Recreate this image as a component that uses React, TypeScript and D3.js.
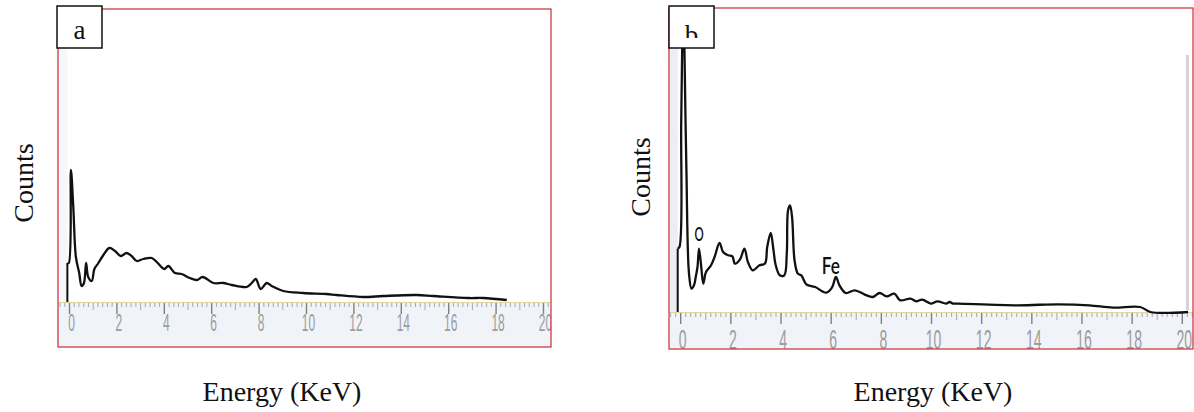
import React from 'react';
import * as d3 from 'd3';

// ---- data (energy in keV, counts in arbitrary units) ----
const energyA = [-0.09,-0.09,-0.03,0.06,0.16,0.27,0.41,0.51,0.61,0.70,0.79,0.94,1.05,1.22,1.43,1.68,1.92,2.16,2.41,2.62,2.84,3.11,3.47,3.68,4.00,4.17,4.45,4.73,5.08,5.37,5.62,6.07,6.49,6.84,7.48,7.69,7.86,8.07,8.32,8.53,9.02,9.86,10.85,11.27,12.40,13.24,14.65,15.35,16.83,17.46,18.45];
const countsA = [0,390,390,1320,950,450,290,160,190,390,250,210,330,390,470,540,510,460,490,460,410,430,440,400,330,360,290,280,240,220,250,190,190,170,150,190,230,130,190,160,110,90,80,70,50,60,70,60,40,40,20];

const energyB = [-0.12,-0.12,-0.05,0.02,0.06,0.11,0.15,0.23,0.33,0.43,0.53,0.60,0.67,0.73,0.82,0.90,1.01,1.21,1.35,1.55,1.69,1.89,2.06,2.16,2.36,2.54,2.68,2.87,3.14,3.36,3.45,3.59,3.70,3.79,3.95,4.13,4.23,4.28,4.36,4.44,4.54,4.67,4.81,5.01,5.36,5.80,6.03,6.19,6.33,6.58,6.94,7.32,7.66,7.93,8.21,8.52,8.75,9.16,9.39,9.63,9.97,10.24,10.58,10.72,10.86,11.06,13.43,15.06,16.29,17.24,18.32,18.73,20.23];
const countsB = [0,634,650,1887,2637,3300,2617,1387,387,234,267,350,450,634,450,284,400,467,550,690,600,567,557,484,524,634,500,417,467,484,650,790,617,467,367,367,584,1017,1067,950,517,384,367,277,250,194,244,350,267,190,217,177,150,190,157,184,117,134,107,124,84,107,84,100,84,84,67,77,67,44,50,0,0];

const rulerLabels = [0, 2, 4, 6, 8, 10, 12, 14, 16, 18, 20];
const peakNames = ['O', 'Fe'];
const peakEnergies = [0.73, 5.99];
const peakCounts = [710, 380];

const xTitle = 'Energy (KeV)';
const yTitle = 'Counts';

type PanelProps = {
  id: string;
  letter: string;
  frame: [number, number, number, number];
  x0: number;
  x20: number;
  baseline: number;
  yMax: number;
  energy: number[];
  counts: number[];
  digitSize: number;
  digitBaseline: number;
  stripFill: string;
  countsX: number;
  countsY: number;
  energyX: number;
  letterBox: [number, number, number, number];
  letterBaseline: number;
  letterClipY?: number;
  peaks?: boolean;
};

function energyStart(e: number[]) {
  return d3.min(e) ?? 0;
}

function Panel(p: PanelProps) {
  const [fx0, fy0, fx1, fy1] = p.frame;
  const x = d3.scaleLinear().domain([0, 20]).range([p.x0, p.x20]);
  const y = d3.scaleLinear().domain([0, p.yMax]).range([p.baseline, fy0]);
  const pts = p.energy.map((e, i) => [e, p.counts[i]] as [number, number]);
  const straight = d3.line<[number, number]>().x(d => x(d[0])).y(d => y(d[1]));
  const smooth = d3.line<[number, number]>()
    .x(d => x(d[0]))
    .y(d => y(d[1]))
    .curve(d3.curveCatmullRom.alpha(0.5));
  const minor = d3.range(-3, 106).map(i => i / 5);
  const clipId = `clip-${p.id}`;
  const letterClipId = `lclip-${p.id}`;
  return (
    <g>
      <defs>
        <clipPath id={clipId}>
          <rect x={fx0} y={fy0} width={fx1 - fx0} height={fy1 - fy0} />
        </clipPath>
        <clipPath id={letterClipId}>
          <rect x={p.letterBox[0]} y={0} width={p.letterBox[2]} height={p.letterClipY ?? 1000} />
        </clipPath>
      </defs>
      <rect x={fx0} y={fy0} width={fx1 - fx0} height={fy1 - fy0} fill="#ffffff" />
      <g clipPath={`url(#${clipId})`}>
        <rect x={fx0} y={fy0} width={x(energyStart(p.energy)) - fx0} height={p.baseline - fy0} fill={p.stripFill} />
        <rect x={fx0} y={p.baseline} width={fx1 - fx0} height={fy1 - p.baseline} fill="#f0f3f8" />
        <line x1={fx0} x2={fx1} y1={p.baseline + 0.5} y2={p.baseline + 0.5} stroke="#dcd79c" strokeWidth={1.2} />
        {minor.map((v, i) => {
          const major = Math.abs(v - Math.round(v / 2) * 2) < 1e-6;
          const mid = !major && Math.abs(v - Math.round(v)) < 1e-6;
          const len = major ? 11 : mid ? 7 : 4;
          return (
            <line key={i} x1={x(v)} x2={x(v)} y1={p.baseline + 1} y2={p.baseline + 1 + len}
              stroke={major ? '#808080' : '#a8a8a8'} strokeWidth={major ? 1.4 : 1} />
          );
        })}
        {rulerLabels.map(v => (
          <text key={v} transform={`translate(${x(v) + 2},${p.digitBaseline}) scale(0.5,1)`}
            textAnchor="middle" fontFamily="Liberation Sans, Arial, sans-serif"
            fontSize={p.digitSize} fill="#9c9c9c">{v}</text>
        ))}
        <path d={straight(pts.slice(0, 2)) ?? ''} fill="none" stroke="#111" strokeWidth={2} />
        <path d={smooth(pts.slice(1)) ?? ''} fill="none" stroke="#111" strokeWidth={2.3} strokeLinejoin="round" />
        {p.peaks && peakNames.map((n, i) => (
          <text key={n} transform={`translate(${x(peakEnergies[i])},${y(peakCounts[i])}) scale(${n === 'O' ? 0.6 : 0.75},1)`}
            textAnchor="middle" fontFamily="Lato, 'Open Sans', sans-serif" fontWeight={600}
            fontSize={n === 'O' ? 19 : 23} fill="#111">{n}</text>
        ))}
      </g>
      <rect x={fx0} y={fy0} width={fx1 - fx0} height={fy1 - fy0} fill="none" stroke="#cf3b46" strokeWidth={1.3} />
      <rect x={p.letterBox[0]} y={p.letterBox[1]} width={p.letterBox[2]} height={p.letterBox[3]}
        fill="#ffffff" stroke="#111" strokeWidth={1.5} />
      <text x={p.letterBox[0] + p.letterBox[2] / 2} y={p.letterBaseline} textAnchor="middle"
        fontFamily="Liberation Serif, 'Times New Roman', serif" fontSize={27} fill="#111"
        clipPath={`url(#${letterClipId})`}>{p.letter}</text>
      <text transform={`translate(${p.countsX},${p.countsY}) rotate(-90)`} textAnchor="middle"
        fontFamily="Liberation Serif, 'Times New Roman', serif" fontSize={28} fill="#111">{yTitle}</text>
      <text x={p.energyX} y={401} textAnchor="middle"
        fontFamily="Liberation Serif, 'Times New Roman', serif" fontSize={28} fill="#111">{xTitle}</text>
    </g>
  );
}

export default function App() {
  return (
    <svg width={1194} height={412} style={{ position: 'absolute', left: 0, top: 0, background: '#fff' }}>
      <Panel id="a" letter="a" frame={[58, 9, 551, 347]} x0={69.5} x20={543.5} baseline={302} yMax={2930}
        energy={energyA} counts={countsA} digitSize={24} digitBaseline={331} stripFill="#f5f7fb"
        countsX={33} countsY={183} energyX={282} letterBox={[57, 6, 45, 42]} letterBaseline={39} />
      <Panel id="b" letter="b" frame={[669, 8, 1193, 349]} x0={680.7} x20={1182.3} baseline={312} yMax={3040}
        energy={energyB} counts={countsB} digitSize={28} digitBaseline={349} stripFill="#eceef5"
        countsX={650} countsY={177} energyX={933} letterBox={[669, 6, 45, 42]} letterBaseline={44}
        letterClipY={38} peaks />
      <rect x={1186} y={55} width={3} height={255} fill="#d4d4d8" />
    </svg>
  );
}
